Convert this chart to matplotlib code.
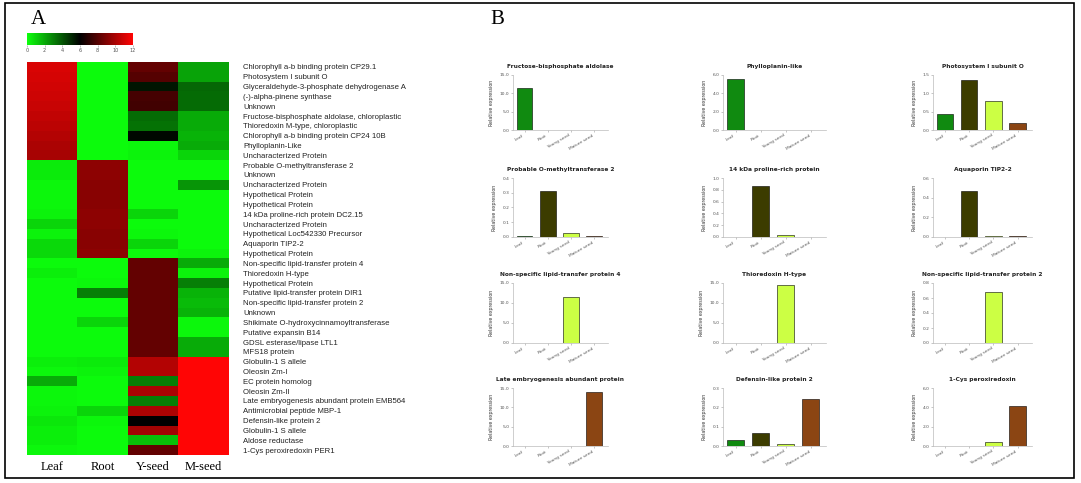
import numpy as np
import matplotlib
matplotlib.use('Agg')
import matplotlib.pyplot as plt
from matplotlib.colors import LinearSegmentedColormap
from matplotlib.patches import Rectangle

# ---- data: heatmap (panel A) ----
genes = [
    "Chlorophyll a-b binding protein CP29.1", "Photosystem I subunit O",
    "Glyceraldehyde-3-phosphate dehydrogenase A", "(-)-alpha-pinene synthase",
    "Unknown", "Fructose-bisphosphate aldolase, chloroplastic",
    "Thioredoxin M-type, chloroplastic", "Chlorophyll a-b binding protein CP24 10B",
    "Phylloplanin-Like", "Uncharacterized Protein",
    "Probable O-methyltransferase 2", "Unknown", "Uncharacterized Protein",
    "Hypothetical Protein", "Hypothetical Protein",
    "14 kDa proline-rich protein DC2.15", "Uncharacterized Protein",
    "Hypothetical Loc542330 Precursor", "Aquaporin TIP2-2", "Hypothetical Protein",
    "Non-specific lipid-transfer protein 4", "Thioredoxin H-type",
    "Hypothetical Protein", "Putative lipid-transfer protein DIR1",
    "Non-specific lipid-transfer protein 2", "Unknown",
    "Shikimate O-hydroxycinnamoyltransferase", "Putative expansin B14",
    "GDSL esterase/lipase LTL1", "MFS18 protein", "Globulin-1 S allele",
    "Oleosin Zm-I", "EC protein homolog", "Oleosin Zm-II",
    "Late embryogenesis abundant protein EMB564", "Antimicrobial peptide MBP-1",
    "Defensin-like protein 2", "Globulin-1 S allele", "Aldose reductase",
    "1-Cys peroxiredoxin PER1",
]
tissues_short = ["Leaf", "Root", "Y-seed", "M-seed"]

leaf = [11.1, 11.0, 10.9, 10.8, 10.7, 10.5, 10.4, 10.2, 10.0, 9.9,
        0.5, 0.5, 0.2, 0.2, 0.2, 0.3, 1.0, 0.3, 0.9, 0.9,
        0.1, 0.4, 0.1, 0.1, 0.1, 0.1, 0.1, 0.1, 0.1, 0.1,
        0.4, 0.2, 2.0, 0.2, 0.2, 0.3, 0.6, 0.4, 0.4, 0.2]
root = [0.1, 0.1, 0.1, 0.1, 0.1, 0.1, 0.1, 0.1, 0.1, 0.1,
        9.3, 9.3, 9.2, 9.2, 9.2, 9.3, 9.3, 9.2, 9.2, 9.3,
        0.1, 0.1, 0.2, 3.0, 0.1, 0.1, 1.0, 0.1, 0.1, 0.1,
        0.5, 0.3, 0.1, 0.1, 0.1, 1.0, 0.2, 0.1, 0.1, 0.1]
yseed = [8.3, 8.0, 5.5, 7.6, 7.5, 3.5, 3.3, 5.8, 0.2, 0.3,
         0.1, 0.1, 0.1, 0.1, 0.1, 1.0, 0.1, 0.2, 1.0, 0.1,
         8.3, 8.3, 8.3, 8.3, 8.3, 8.3, 8.3, 8.3, 8.3, 8.3,
         10.2, 10.2, 3.0, 10.0, 3.0, 10.0, 6.0, 9.8, 1.5, 8.3]
mseed = [2.2, 2.2, 3.6, 3.5, 3.5, 2.0, 2.0, 1.8, 2.0, 1.0,
         0.1, 0.1, 2.5, 0.1, 0.1, 0.1, 0.1, 0.1, 0.1, 0.3,
         2.0, 0.3, 3.0, 1.8, 1.6, 1.8, 0.2, 0.2, 2.0, 2.0,
         12.0, 12.0, 12.0, 12.0, 12.0, 12.0, 12.0, 12.0, 12.0, 12.0]
cbar_ticks = [0, 2, 4, 6, 8, 10, 12]

# ---- data: bar charts (panel B) ----
tissues = ["Leaf", "Root", "Young seed", "Mature seed"]
bar_titles = [
    "Fructose-bisphosphate aldolase", "Phylloplanin-like", "Photosystem I subunit O",
    "Probable O-methyltransferase 2", "14 kDa proline-rich protein", "Aquaporin TIP2-2",
    "Non-specific lipid-transfer protein 4", "Thioredoxin H-type", "Non-specific lipid-transfer protein 2",
    "Late embryogenesis abundant protein", "Defensin-like protein 2", "1-Cys peroxiredoxin",
]
fba = [11.5, 0.05, 0.1, 0.05]
phyl = [5.6, 0.04, 0.02, 0.02]
psio = [0.44, 1.37, 0.78, 0.18]
omt2 = [0.01, 0.31, 0.025, 0.008]
prp14 = [0.005, 0.86, 0.04, 0.005]
tip22 = [0.005, 0.47, 0.015, 0.01]
nltp4 = [0.0, 0.0, 11.4, 0.0]
trxh = [0.0, 0.0, 14.5, 0.0]
nltp2 = [0.0, 0.0, 0.68, 0.0]
lea = [0.0, 0.0, 0.0, 14.0]
def2 = [0.03, 0.065, 0.01, 0.245]
per1 = [0.0, 0.0, 0.45, 4.1]
bar_values = [fba, phyl, psio, omt2, prp14, tip22, nltp4, trxh, nltp2, lea, def2, per1]
bar_yticks = [
    [0.0, 5.0, 10.0, 15.0], [0.0, 2.0, 4.0, 6.0], [0.0, 0.5, 1.0, 1.5],
    [0.0, 0.1, 0.2, 0.3, 0.4], [0.0, 0.2, 0.4, 0.6, 0.8, 1.0], [0.0, 0.2, 0.4, 0.6],
    [0.0, 5.0, 10.0, 15.0], [0.0, 5.0, 10.0, 15.0], [0.0, 0.2, 0.4, 0.6, 0.8],
    [0.0, 5.0, 10.0, 15.0], [0.0, 0.1, 0.2, 0.3], [0.0, 2.0, 4.0, 6.0],
]

W, H = 1081, 483
fig = plt.figure(figsize=(W / 100, H / 100), dpi=100)
fig.patch.set_facecolor('white')


def px(x0, y0, x1, y1):
    # pixel box -> figure fraction
    return [x0 / W, 1 - y1 / H, (x1 - x0) / W, (y1 - y0) / H]


# outer frame
frame = fig.add_axes([0, 0, 1, 1])
frame.set_xlim(0, W)
frame.set_ylim(H, 0)
frame.axis('off')
frame.add_patch(Rectangle((5, 3), 1069, 475, fill=False, edgecolor='black', lw=1.2))
frame.text(38, 20, "A", fontsize=15, family='Liberation Serif', ha='center', va='center')
frame.text(497, 20, "B", fontsize=15, family='Liberation Serif', ha='center', va='center')

# ---- panel A ----
cmap = LinearSegmentedColormap.from_list('gkr', [(0.05, 1.0, 0.05), (0, 0, 0), (1.0, 0.02, 0.02)])
mat = np.array([leaf, root, yseed, mseed]).T

ax = fig.add_axes(px(27, 62, 228, 455))
ax.imshow(mat, cmap=cmap, vmin=0, vmax=12, aspect='auto', interpolation='nearest')
ax.set_xticks(range(4))
ax.set_xticklabels(tissues_short, family='Liberation Serif', fontsize=9)
ax.tick_params(axis='x', length=0, pad=4)
ax.yaxis.tick_right()
ax.set_yticks(range(len(genes)))
ax.set_yticklabels(genes, fontsize=5.6, family='Liberation Sans', color='#222222')
ax.tick_params(axis='y', length=0, pad=11)
for s in ax.spines.values():
    s.set_visible(False)

cax = fig.add_axes(px(27, 33, 133, 45))
grad = np.linspace(0, 12, 256).reshape(1, -1)
cax.imshow(grad, cmap=cmap, vmin=0, vmax=12, aspect='auto', extent=[0, 12, 0, 1])
cax.set_yticks([])
cax.set_xticks(cbar_ticks)
cax.set_xticklabels([str(t) for t in cbar_ticks], fontsize=3.5, color='#555555')
cax.tick_params(axis='x', length=1.5, width=0.4, pad=1, color='#888888')
for s in cax.spines.values():
    s.set_visible(False)

# ---- panel B ----
bar_colors = ['#108a10', '#3c3c00', '#ccff44', '#8b4513']
cols_x = [(513, 608), (723, 826), (933, 1032)]
rows_y = [(75, 130), (178, 237), (283, 343), (388, 446)]

for i, (title, vals) in enumerate(zip(bar_titles, bar_values)):
    r, c = divmod(i, 3)
    x0, x1 = cols_x[c]
    y0, y1 = rows_y[r]
    bx = fig.add_axes(px(x0, y0, x1, y1))
    bx.bar(range(4), vals, width=0.68, color=bar_colors, edgecolor='black', linewidth=0.4)
    ticks = bar_yticks[i]
    bx.set_ylim(ticks[0], ticks[-1])
    bx.set_yticks(ticks)
    bx.set_yticklabels([f"{t:.1f}" for t in ticks], fontsize=3.2, color='#555555')
    bx.set_xlim(-0.5, 3.6)
    bx.set_xticks(range(4))
    bx.set_xticklabels(tissues, fontsize=3.2, rotation=30, ha='right', color='#555555')
    bx.set_ylabel("Relative expression", fontsize=3.4, color='#333333', labelpad=4)
    bx.set_title(title, fontsize=4.2, color='#222222', pad=5, fontweight='bold')
    bx.tick_params(length=1.5, width=0.4, pad=1, color='#999999')
    bx.spines['top'].set_visible(False)
    bx.spines['right'].set_visible(False)
    bx.spines['left'].set_color('#bbbbbb')
    bx.spines['bottom'].set_color('#bbbbbb')
    bx.spines['left'].set_linewidth(0.5)
    bx.spines['bottom'].set_linewidth(0.5)

fig.savefig('out.png', dpi=100)
